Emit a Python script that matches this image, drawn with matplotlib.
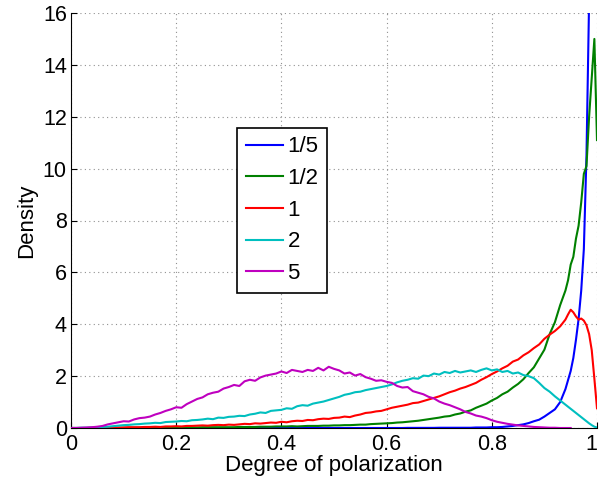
import numpy as np
import matplotlib
matplotlib.use('Agg')
import matplotlib.pyplot as plt

plt.rcParams['font.family'] = ['Liberation Sans', 'DejaVu Sans']

# bin centres: 0.01 steps up to 0.94, then 0.005 steps to 1
x = np.concatenate([np.linspace(0, 0.94, 95), np.linspace(0.945, 1.0, 12)])

labels = ['1/5', '1/2', '1', '2', '5']
colors = ['#0000ff', '#008000', '#ff0000', '#00bfbf', '#bf00bf']

d_fifth = [0, 0, 0, 0, 0, 0, 0, 0, 0, 0,
           0, 0, 0, 0, 0, 0, 0, 0, 0, 0,
           0, 0, 0, 0, 0, 0, 0, 0, 0, 0,
           0, 0, 0, 0, 0, 0, 0, 0, 0, 0,
           0, 0, 0, 0, 0, 0, 0, 0, 0, 0,
           0, 0, 0, 0, 0, 0, 0, 0, 0, 0,
           0, 0, 0, 0, 0.005, 0.005, 0.005, 0.005, 0.005, 0.005,
           0.01, 0.01, 0.01, 0.01, 0.01, 0.01, 0.01, 0.02, 0.02, 0.02,
           0.03, 0.03, 0.04, 0.06, 0.08, 0.11, 0.14, 0.19, 0.26, 0.32,
           0.44, 0.58, 0.72, 1.00, 1.50,
           1.85, 2.20, 2.70, 3.40, 4.20, 5.30, 6.90, 10.5, 16.5, 24.0, 30.0, 30.0]

d_half = [0, 0, 0, 0, 0, 0, 0, 0, 0, 0,
          0.01, 0.01, 0.01, 0.01, 0.01, 0.01, 0.01, 0.01, 0.02, 0.02,
          0.02, 0.02, 0.02, 0.02, 0.02, 0.03, 0.03, 0.03, 0.03, 0.03,
          0.03, 0.03, 0.04, 0.04, 0.04, 0.04, 0.05, 0.05, 0.05, 0.06,
          0.06, 0.06, 0.07, 0.06, 0.07, 0.08, 0.08, 0.08, 0.09, 0.09,
          0.10, 0.10, 0.11, 0.11, 0.12, 0.13, 0.13, 0.15, 0.16, 0.17,
          0.18, 0.19, 0.21, 0.22, 0.24, 0.26, 0.28, 0.31, 0.34, 0.37,
          0.40, 0.44, 0.46, 0.52, 0.56, 0.63, 0.68, 0.78, 0.86, 0.94,
          1.06, 1.16, 1.30, 1.40, 1.56, 1.70, 1.88, 2.12, 2.34, 2.68,
          3.02, 3.62, 4.08, 4.74, 5.30,
          5.70, 6.30, 6.60, 7.30, 7.80, 8.70, 9.80, 10.10, 12.00, 13.50, 15.00, 11.10]

d_one = [0, 0, 0, 0, 0.01, 0.01, 0.01, 0.01, 0.02, 0.02,
         0.02, 0.03, 0.03, 0.03, 0.04, 0.04, 0.05, 0.04, 0.06, 0.06,
         0.07, 0.06, 0.08, 0.08, 0.09, 0.10, 0.09, 0.11, 0.12, 0.11,
         0.13, 0.12, 0.14, 0.16, 0.15, 0.18, 0.17, 0.19, 0.21, 0.20,
         0.24, 0.22, 0.26, 0.28, 0.27, 0.31, 0.30, 0.34, 0.36, 0.35,
         0.39, 0.40, 0.44, 0.42, 0.48, 0.52, 0.58, 0.60, 0.64, 0.66,
         0.72, 0.78, 0.82, 0.86, 0.90, 0.96, 0.98, 1.04, 1.10, 1.16,
         1.22, 1.30, 1.38, 1.44, 1.52, 1.58, 1.66, 1.74, 1.86, 1.96,
         2.08, 2.18, 2.30, 2.40, 2.56, 2.64, 2.80, 2.92, 3.08, 3.22,
         3.44, 3.60, 3.74, 3.92, 4.18,
         4.38, 4.56, 4.46, 4.30, 4.18, 4.22, 4.14, 3.96, 3.62, 3.00, 1.90, 0.76]

d_two = [0, 0, 0.01, 0.01, 0.02, 0.02, 0.04, 0.05, 0.07, 0.09,
         0.11, 0.12, 0.14, 0.15, 0.17, 0.18, 0.20, 0.19, 0.23, 0.24,
         0.25, 0.27, 0.26, 0.30, 0.31, 0.33, 0.36, 0.34, 0.40, 0.39,
         0.43, 0.44, 0.47, 0.46, 0.52, 0.55, 0.60, 0.58, 0.66, 0.68,
         0.70, 0.76, 0.74, 0.84, 0.88, 0.86, 0.94, 0.98, 1.02, 1.08,
         1.14, 1.20, 1.28, 1.32, 1.38, 1.40, 1.46, 1.50, 1.54, 1.58,
         1.62, 1.68, 1.76, 1.82, 1.86, 1.92, 1.90, 2.02, 2.00, 2.10,
         2.06, 2.16, 2.12, 2.20, 2.14, 2.18, 2.22, 2.16, 2.24, 2.30,
         2.22, 2.26, 2.16, 2.20, 2.10, 2.14, 2.04, 2.00, 1.92, 1.74,
         1.54, 1.40, 1.22, 1.06, 0.90,
         0.82, 0.74, 0.66, 0.58, 0.50, 0.42, 0.34, 0.26, 0.18, 0.11, 0.05, 0.02]

d_five = [0, 0, 0.01, 0.02, 0.03, 0.05, 0.08, 0.14, 0.18, 0.22,
          0.26, 0.25, 0.33, 0.38, 0.40, 0.44, 0.52, 0.58, 0.66, 0.72,
          0.80, 0.78, 0.92, 1.02, 1.12, 1.18, 1.30, 1.36, 1.40, 1.52,
          1.58, 1.66, 1.62, 1.80, 1.86, 1.82, 1.95, 2.02, 2.06, 2.10,
          2.18, 2.12, 2.24, 2.20, 2.16, 2.24, 2.20, 2.32, 2.22, 2.36,
          2.28, 2.22, 2.10, 2.14, 2.02, 2.08, 1.96, 1.90, 1.82, 1.84,
          1.78, 1.74, 1.62, 1.56, 1.58, 1.42, 1.36, 1.30, 1.20, 1.14,
          1.02, 0.94, 0.88, 0.80, 0.72, 0.62, 0.56, 0.48, 0.44, 0.38,
          0.30, 0.24, 0.20, 0.16, 0.13, 0.10, 0.08, 0.06, 0.04, 0.03,
          0.02, 0.01, 0.01, 0.0, 0.0,
          0.0, 0.0, np.nan, np.nan, np.nan, np.nan, np.nan, np.nan,
          np.nan, np.nan, np.nan, np.nan]

series = [d_fifth, d_half, d_one, d_two, d_five]

fig = plt.figure(figsize=(6, 4.84), dpi=100)
ax = fig.add_axes([71/600, 1 - 428/484, 526/600, 415/484])

for ys, lab, c in zip(series, labels, colors):
    ax.plot(x, ys, color=c, lw=1.5, label=lab, zorder=3)

ax.set_xlim(0, 1)
ax.set_ylim(0, 16)
ax.set_xticks([0, 0.2, 0.4, 0.6, 0.8, 1])
ax.set_xticklabels(['0', '0.2', '0.4', '0.6', '0.8', '1'])
ax.set_yticks(range(0, 17, 2))

ax.grid(True, color='#909090', lw=0.8, linestyle=(0, (1, 3)), zorder=0)
ax.set_axisbelow(True)
for s in ['top', 'right']:
    ax.spines[s].set_visible(False)
for s in ['left', 'bottom']:
    ax.spines[s].set_linewidth(0.8)
ax.tick_params(direction='in', length=4, width=0.8, labelsize=15.5)
ax.tick_params(axis='y', pad=3)
ax.tick_params(axis='x', pad=4)
# keep the last x tick label inside the figure
ax.get_xticklabels()[-1].set_horizontalalignment('right')

ax.set_xlabel('Degree of polarization', fontsize=16, labelpad=0)
ax.set_ylabel('Density', fontsize=16, labelpad=4)

leg = ax.legend(loc='lower left', bbox_to_anchor=(166/526, 135/415),
                borderaxespad=0, fontsize=16, frameon=True, fancybox=False,
                handlelength=1.65, handletextpad=0.22, borderpad=0.4,
                labelspacing=0.48)
leg.get_frame().set_edgecolor('black')
leg.get_frame().set_linewidth(1.2)
leg.get_frame().set_alpha(1)

fig.savefig('out.png', dpi=100, facecolor='white')
